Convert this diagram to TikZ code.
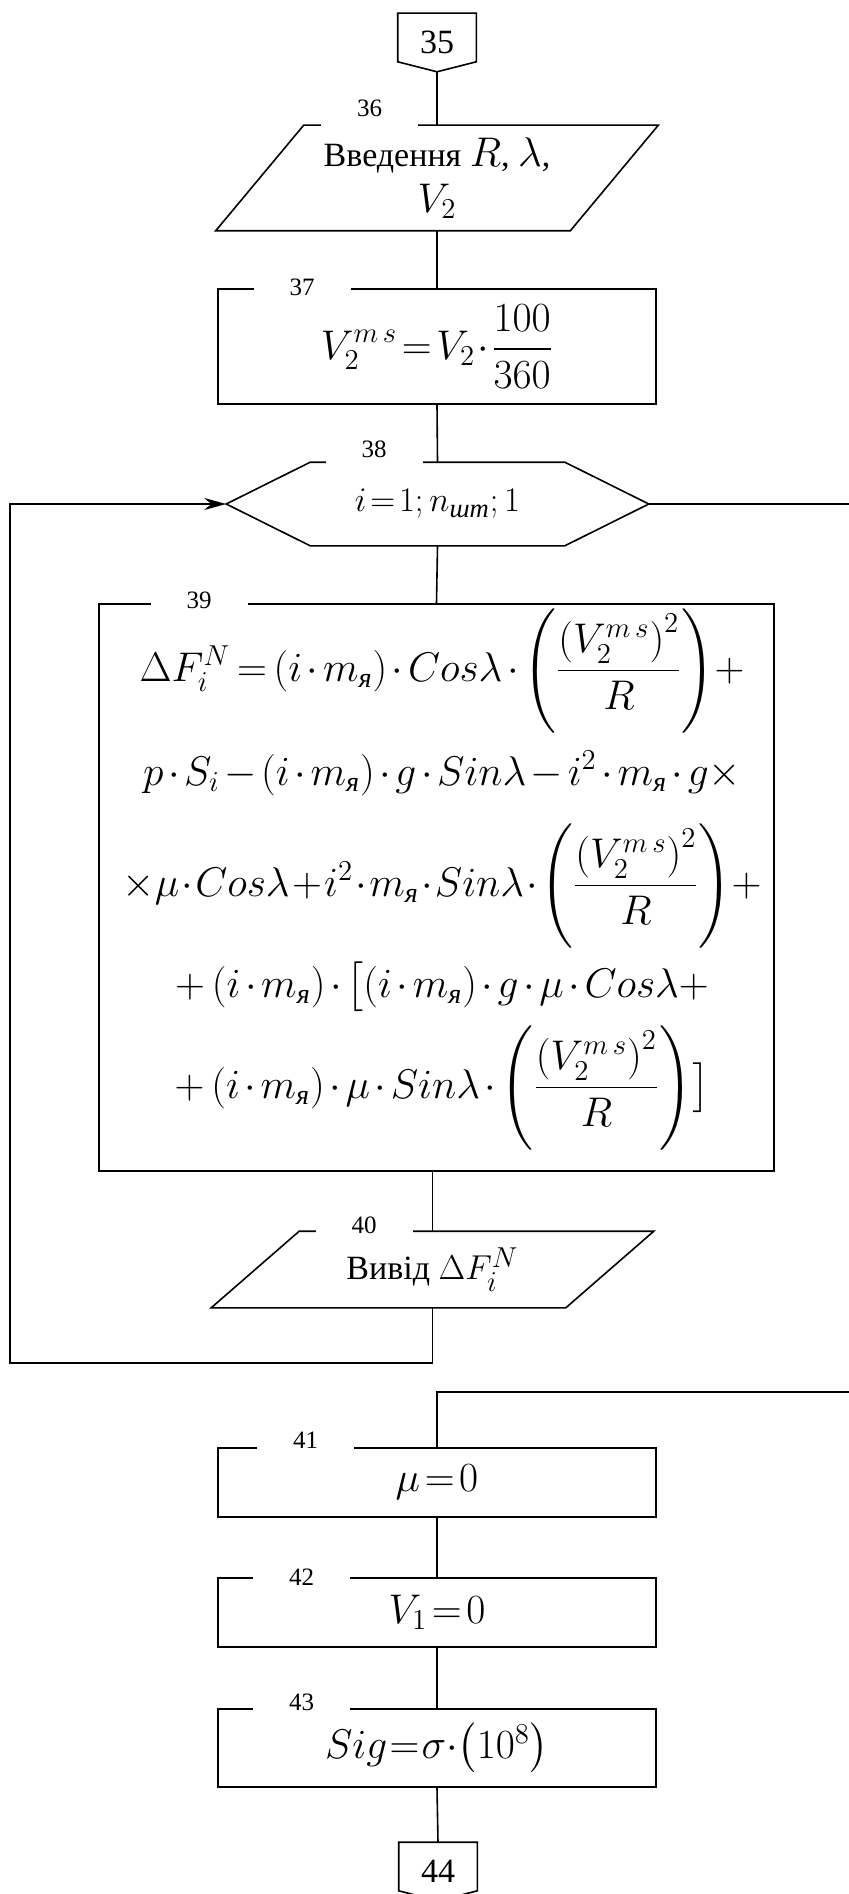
\documentclass[tikz,border=0pt]{standalone}
\usepackage{amsmath}
\usepackage{fontspec}
\setmainfont{Liberation Serif}
\usetikzlibrary{arrows.meta, calc}
\newcommand{\mya}{m_{\textit{я}}}
\newcommand{\Vms}{V_2^{m\,s}}
\newcommand{\frV}{\Biggl(\dfrac{\left(\Vms\right)^2}{R}\Biggr)}
\newcommand{\tightmath}{\medmuskip=1mu\thickmuskip=2mu\relax}
\newcommand{\midmath}{\medmuskip=2mu\thickmuskip=3mu\relax}
\newcommand{\tightermath}{\medmuskip=0mu\thickmuskip=1mu\relax}
\newcommand{\mfs}{\fontsize{20}{23}\selectfont}

\begin{document}
\begin{tikzpicture}[x=0.5pt, y=-0.5pt, line width=0.8pt,
  conn/.style={minimum width=38.5pt, minimum height=28.5pt, inner sep=0pt, font=\fontsize{17}{20}\selectfont},
  io/.style={minimum width=220.5pt, inner sep=0pt, align=center, font=\fontsize{17}{23}\selectfont},
  proc/.style={draw, minimum width=219pt, inner sep=0pt, font=\fontsize{20}{24}\selectfont\tightmath},
  num/.style={fill=white, inner sep=0pt, minimum width=48.5pt, minimum height=20pt, font=\fontsize{12.5}{14}\selectfont},
  frm/.style={anchor=base, inner sep=0pt, font=\fontsize{20}{24}\selectfont\midmath}]
  \useasboundingbox (0,0) rectangle (849,1894);

  % з'єднувач 35
  \node[conn] (c35) at (437,42.5) {35};
  \draw (c35.north west) -- (c35.north east) -- ([yshift=5pt]c35.south east) -- (c35.south) -- ([yshift=5pt]c35.south west) -- cycle;

  % 36: введення
  \node[io, minimum height=52pt] (b36) at (437,178) {Введення {\mfs$R$}, {\mfs$\lambda$},\\{\mfs$V_2$}};
  \draw ([xshift=44pt]b36.north west) -- (b36.north east) -- ([xshift=-44pt]b36.south east) -- (b36.south west) -- cycle;

  % 37
  \node[proc, minimum height=57.5pt, font=\fontsize{21}{24}\selectfont\tightmath] (b37) at (437,346.5) {$\displaystyle\Vms=V_2\cdot\frac{100}{360}$};

  % 38: цикл
  \node[minimum width=210.5pt, minimum height=41pt, inner sep=0pt, font=\fontsize{19}{22}\selectfont\tightmath] (b38) at (437.5,504) {$i=1;n_{\textit{шт}};1$};
  \draw (b38.west) -- ([xshift=42pt]b38.north west) -- ([xshift=-42pt]b38.north east) -- (b38.east) -- ([xshift=-42pt]b38.south east) -- ([xshift=42pt]b38.south west) -- cycle;

  % 39: формула
  \node[draw, minimum width=337.5pt, minimum height=283.5pt] (b39) at (436.5,887.5) {};
  \node[frm] (f1) at (442,681) {$\Delta F_i^N=\left(i\cdot\mya\right)\cdot Cos\lambda\cdot\frV+$};
  \node[frm] (f2) at (442,785) {$p\cdot S_i-\left(i\cdot\mya\right)\cdot g\cdot Sin\lambda-i^2\cdot\mya\cdot g\times$};
  \node[frm, font=\fontsize{20}{24}\selectfont\tightmath] (f3) at (442,896) {$\times\mu\cdot Cos\lambda+i^2\cdot\mya\cdot Sin\lambda\cdot\frV+$};
  \node[frm] (f4) at (442,997) {$+\left(i\cdot\mya\right)\cdot\bigl[\left(i\cdot\mya\right)\cdot g\cdot\mu\cdot Cos\lambda+$};
  \node[frm] (f5) at (442,1098) {$+\left(i\cdot\mya\right)\cdot\mu\cdot Sin\lambda\cdot\frV\bigr]$};

  % 40: вивід
  \node[io, minimum height=37.5pt] (b40) at (432.5,1269.5) {Вивід {\fontsize{19}{23}\selectfont$\Delta F_i^N$}};
  \draw ([xshift=44pt]b40.north west) -- (b40.north east) -- ([xshift=-44pt]b40.south east) -- (b40.south west) -- cycle;

  % 41--43
  \node[proc, minimum height=34.5pt] (b41) at (437,1482.5) {$\mu=0$};
  \node[proc, minimum height=34.5pt] (b42) at (437,1612.5) {$V_1=0$};
  \node[proc, minimum height=39pt, font=\fontsize{21}{24}\selectfont\tightermath] (b43) at (437,1748) {$Sig=\sigma\cdot\left(10^8\right)$};

  % з'єднувач 44
  \node[conn] (c44) at (438,1871.5) {44};
  \draw (c44.north west) -- (c44.north east) -- ([yshift=5pt]c44.south east) -- (c44.south) -- ([yshift=5pt]c44.south west) -- cycle;

  % лінії
  \coordinate (lp) at (10,1363);
  \coordinate (ex1) at (849,504);
  \coordinate (ex2) at (849,1392);
  \draw (c35.south) -- (b36.north);
  \draw (b36.south) -- (b37.north);
  \draw (b37.south) -- (b38.north);
  \draw (b38.south) -- (b39.north);
  \draw (b40.north |- b39.south) -- (b40.north);
  \draw[-{Stealth[length=11pt, width=6pt]}] (b40.south) |- (lp) |- (b38.west);
  \draw (b38.east) -- (ex1);
  \draw (ex2) -| (b41.north);
  \draw (b41) -- (b42);
  \draw (b42) -- (b43);
  \draw (b43.south) -- (c44.north);

  % номери блоків
  \node[num] (n36) at (369.5,108) {36};
  \node[num] (n37) at (302,287) {37};
  \node[num] (n38) at (374,449) {38};
  \node[num] (n39) at (199,600) {39};
  \node[num] (n40) at (364,1225) {40};
  \node[num] (n41) at (305.5,1440) {41};
  \node[num] (n42) at (301.5,1577) {42};
  \node[num] (n43) at (301.5,1702) {43};
\end{tikzpicture}
\end{document}
